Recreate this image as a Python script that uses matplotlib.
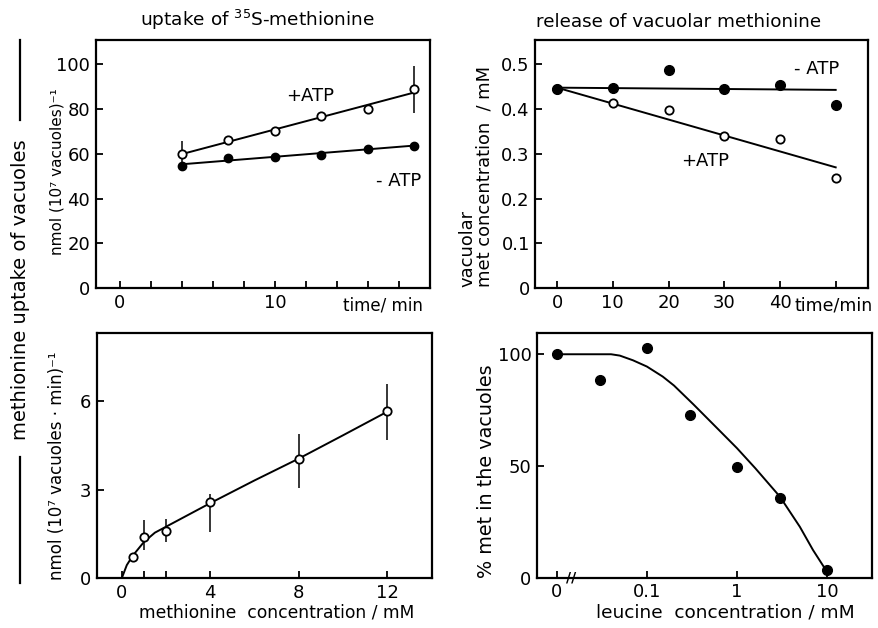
import numpy as np
import matplotlib
matplotlib.use("Agg")
import matplotlib.pyplot as plt
from matplotlib.lines import Line2D

plt.rcParams['font.family'] = ['DejaVu Sans']
plt.rcParams['mathtext.fontset'] = 'dejavusans'

# ---------------- data ----------------
# top-left: uptake of 35S-methionine vs time
uptake_time = [4, 7, 10, 13, 16, 19]
uptake_plus_atp = [60, 66, 70, 77, 80, 88.7]
uptake_plus_err = [5.5, 0, 0, 0, 0, 10.5]
uptake_minus_atp = [54.5, 58.3, 58.7, 59.6, 62.3, 63.6]

# top-right: release of vacuolar methionine
release_time = [0, 10, 20, 30, 40, 50]
release_minus_atp = [0.445, 0.448, 0.487, 0.446, 0.453, 0.410]
release_plus_atp = [0.445, 0.413, 0.397, 0.341, 0.333, 0.247]
# drawn regression lines (start at 0 min, end at 50 min)
release_fit_time = [0, 50]
release_minus_fit = [0.448, 0.443]
release_plus_fit = [0.448, 0.270]

# bottom-left: uptake rate vs methionine concentration
met_conc = [0.5, 1, 2, 4, 8, 12]
met_rate = [0.73, 1.41, 1.62, 2.6, 4.03, 5.68]
met_err_low = [0, 0.45, 0.38, 1.02, 0.98, 0.99]
met_err_high = [0, 0.57, 0.38, 0.26, 0.87, 0.92]
met_curve_conc = [0, 0.23, 0.5, 1, 1.5, 2, 3, 4, 6, 8, 10, 12]
met_curve_rate = [0, 0.45, 0.77, 1.23, 1.55, 1.75, 2.15, 2.55, 3.32, 4.06, 4.85, 5.65]

# bottom-right: % met in vacuoles vs leucine concentration
leu_conc = [0, 0.03, 0.1, 0.3, 1, 3, 10]
leu_pct = [100, 88.3, 103, 72.8, 49.7, 35.8, 3.4]
leu_curve_conc = [0, 0.04, 0.05, 0.07, 0.1, 0.15, 0.2, 0.33, 0.6, 1, 1.6, 3, 5, 7, 10]
leu_curve_pct = [100, 100, 99.4, 97.3, 94.5, 90.0, 86.0, 77.5, 67, 58, 49, 36.3, 22.8, 12.4, 2.7]
leu_tick_conc = [0, 0.1, 1, 10]
leu_tick_labels = ['0', '0.1', '1', '10']


def leu_pos(c):
    c = np.asarray(c, dtype=float)
    out = np.full(c.shape, -2.0)
    m = c > 0
    out[m] = np.log10(c[m])
    return out

# ---------------- figure ----------------
fig = plt.figure(figsize=(8.79, 6.28), dpi=100)
tick_fs = 13
lab_fs = 12
lw_axis = 1.6
lw_line = 1.4


def style(ax):
    for s in ax.spines.values():
        s.set_linewidth(lw_axis)
    ax.tick_params(direction='in', length=5, width=1.3, labelsize=tick_fs, pad=4)

# Top-left
ax1 = fig.add_axes([0.109, 0.541, 0.380, 0.395])
style(ax1)
for y in [uptake_plus_atp, uptake_minus_atp]:
    k, b = np.polyfit(uptake_time, y, 1)
    xs = np.array([uptake_time[0], uptake_time[-1]])
    ax1.plot(xs, k * xs + b, color='black', lw=lw_line)
ax1.errorbar(uptake_time, uptake_plus_atp, yerr=uptake_plus_err, fmt='none', ecolor='black', elinewidth=1.1)
ax1.plot(uptake_time, uptake_plus_atp, 'o', mfc='white', mec='black', mew=1.3, ms=6)
ax1.plot(uptake_time, uptake_minus_atp, 'o', mfc='black', mec='black', ms=6)
ax1.set_xlim(-1.55, 20)
ax1.set_ylim(0, 110.7)
ax1.set_yticks([0, 20, 40, 60, 80, 100])
ax1.set_xticks(np.arange(0, 19, 2))
ax1.set_xticklabels(['0', '', '', '', '', '10', '', '', '', ''])
ax1.text(12.3, 86, '+ATP', fontsize=tick_fs, ha='center', va='center')
ax1.text(18.0, 48, '- ATP', fontsize=tick_fs, ha='center', va='center')
ax1.text(17.0, -0.035, 'time/ min', fontsize=lab_fs, ha='center', va='top',
         transform=ax1.get_xaxis_transform())
fig.text(0.065, 0.726, 'nmol (10\u2077 vacuoles)\u207b\u00b9', rotation=90,
         ha='center', va='center', fontsize=11)
fig.text(0.293, 0.968, 'uptake of $^{35}$S-methionine', ha='center', va='center', fontsize=13.3)

# Top-right
ax2 = fig.add_axes([0.609, 0.541, 0.3785, 0.395])
style(ax2)
ax2.plot(release_fit_time, release_minus_fit, color='black', lw=lw_line)
ax2.plot(release_fit_time, release_plus_fit, color='black', lw=lw_line)
ax2.plot(release_time, release_plus_atp, 'o', mfc='white', mec='black', mew=1.3, ms=6)
ax2.plot(release_time, release_minus_atp, 'o', mfc='black', mec='black', ms=7)
ax2.set_xlim(-3.9, 55.8)
ax2.set_ylim(0, 0.554)
ax2.set_yticks([0, 0.1, 0.2, 0.3, 0.4, 0.5])
ax2.set_yticklabels(['0', '0.1', '0.2', '0.3', '0.4', '0.5'])
ax2.set_xticks([0, 10, 20, 30, 40, 50])
ax2.set_xticklabels(['0', '10', '20', '30', '40', ''])
ax2.text(46.5, 0.49, '- ATP', fontsize=tick_fs, ha='center', va='center')
ax2.text(26.5, 0.285, '+ATP', fontsize=tick_fs, ha='center', va='center')
ax2.text(49.6, -0.035, 'time/min', fontsize=12.5, ha='center', va='top',
         transform=ax2.get_xaxis_transform())
fig.text(0.5415, 0.543, 'vacuolar\nmet concentration  / mM', rotation=90,
         ha='center', va='bottom', multialignment='left', fontsize=12.9, linespacing=1.0)
fig.text(0.772, 0.965, 'release of vacuolar methionine', ha='center', va='center', fontsize=13.2)

# Bottom-left
ax3 = fig.add_axes([0.110, 0.079, 0.381, 0.390])
style(ax3)
ax3.plot(met_curve_conc, met_curve_rate, color='black', lw=lw_line)
ax3.errorbar(met_conc, met_rate, yerr=[met_err_low, met_err_high], fmt='none',
             ecolor='black', elinewidth=1.1)
ax3.plot(met_conc, met_rate, 'o', mfc='white', mec='black', mew=1.3, ms=6)
ax3.set_xlim(-1.13, 14)
ax3.set_ylim(0, 8.3)
ax3.set_yticks([0, 3, 6])
ax3.set_xticks([0, 1, 2, 4, 8, 12])
ax3.set_xticklabels(['0', '', '', '4', '8', '12'])
fig.text(0.315, 0.024, 'methionine  concentration / mM', ha='center', va='center', fontsize=12.3)
fig.text(0.065, 0.258, 'nmol (10\u2077 vacuoles \u00b7 min)\u207b\u00b9', rotation=90,
         ha='center', va='center', fontsize=lab_fs)

# Bottom-right
ax4 = fig.add_axes([0.611, 0.080, 0.381, 0.389])
style(ax4)
ax4.plot(leu_pos(leu_curve_conc), leu_curve_pct, color='black', lw=lw_line)
ax4.plot(leu_pos(leu_conc), leu_pct, 'o', mfc='black', mec='black', ms=7)
ax4.set_xlim(-2.22, 1.5)
ax4.set_ylim(0, 109.3)
ax4.set_yticks([0, 50, 100])
ax4.set_xticks(leu_pos(leu_tick_conc))
ax4.set_xticklabels(leu_tick_labels)
ax4.text(-1.84, 0.0, '//', fontsize=10, ha='center', va='center', fontweight='bold',
         transform=ax4.get_xaxis_transform(), clip_on=False)
fig.text(0.825, 0.024, 'leucine  concentration / mM', ha='center', va='center', fontsize=13.3)
fig.text(0.554, 0.25, '% met in the vacuoles', rotation=90, ha='center', va='center', fontsize=13.8)

# big left label with rules
fig.text(0.0228, 0.538, 'methionine uptake of vacuoles', rotation=90,
         ha='center', va='center', fontsize=14)
fig.add_artist(Line2D([0.0228, 0.0228], [0.809, 0.936], transform=fig.transFigure,
                      color='black', lw=1.6))
fig.add_artist(Line2D([0.0228, 0.0228], [0.072, 0.272], transform=fig.transFigure,
                      color='black', lw=1.6))

fig.savefig('out.png', dpi=100)
